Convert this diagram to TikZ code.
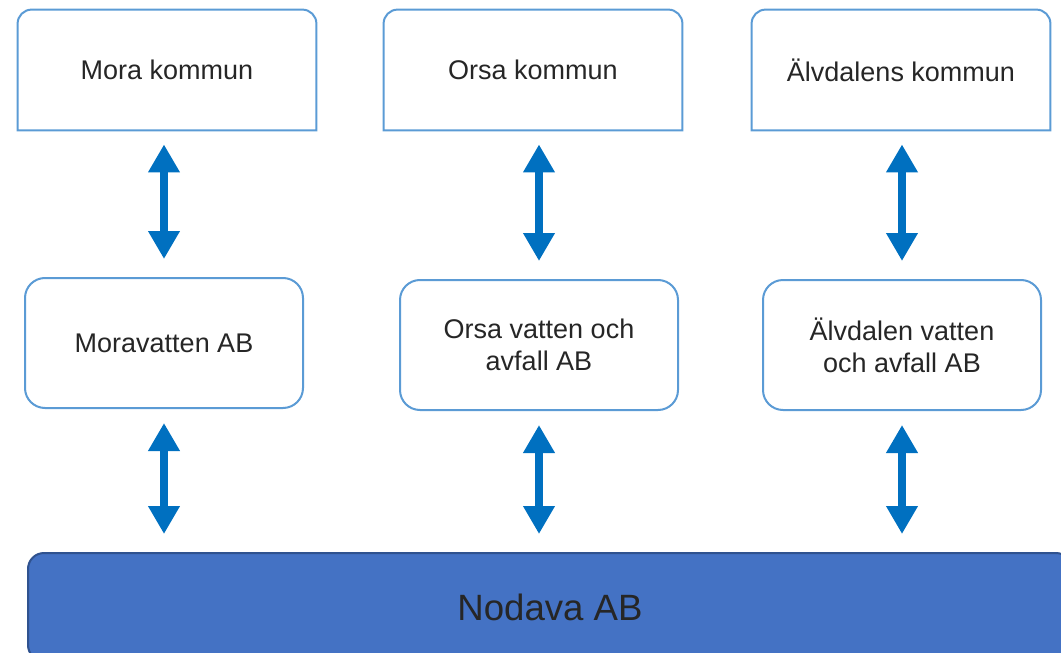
\documentclass[tikz,border=0pt]{standalone}
\usepackage{fontspec}
\setmainfont{Liberation Sans}
\usetikzlibrary{arrows.meta}
\definecolor{boxblue}{HTML}{5B9BD5}
\definecolor{arrowblue}{HTML}{0070C0}
\definecolor{barblue}{HTML}{4472C4}
\definecolor{barline}{HTML}{2F528F}
\definecolor{textgray}{HTML}{262626}

\begin{document}
\begin{tikzpicture}[x=0.5pt,y=-0.5pt,
    kommun/.style={minimum width=149pt,minimum height=60pt,inner sep=0pt,
        font=\fontsize{13.5}{16}\selectfont,text=textgray},
    bolag/.style={draw=boxblue,line width=1pt,rounded corners=10pt,
        minimum width=139pt,minimum height=65pt,inner sep=0pt,align=center,
        font=\fontsize{13.5}{16}\selectfont,text=textgray},
    link/.style={arrowblue,line width=4pt,
        {Triangle[width=15pt,length=14pt]}-{Triangle[width=15pt,length=14pt]},
        shorten <=7pt,shorten >=9pt}]
    \useasboundingbox (0,0) rectangle (1061,653);
    \clip (0,0) rectangle (1061,653);
    % kommuner
    \node[kommun] (mora) at (167,70) {Mora kommun};
    \node[kommun] (orsa) at (533,70) {Orsa kommun};
    \node[kommun] (alv)  at (901,70) {Älvdalens kommun};
    \foreach \n in {mora,orsa,alv}
        \draw[boxblue,line width=1pt] (\n.south west) -- ([yshift=-7pt]\n.north west)
            arc[start angle=180,end angle=90,radius=7pt] -- ([xshift=-7pt]\n.north east)
            arc[start angle=90,end angle=0,radius=7pt] -- (\n.south east) -- cycle;
    % bolag
    \node[bolag] (moraab) at (164,343) {Moravatten AB};
    \node[bolag] (orsaab) at (539,345) {Orsa vatten och\\avfall AB};
    \node[bolag] (alvab)  at (902,345) {Älvdalen vatten\\och avfall AB};
    \node[draw=barline,fill=barblue,line width=1pt,rounded corners=8pt,
        minimum width=522pt,minimum height=54pt,
        font=\fontsize{18.3}{22}\selectfont,text=textgray] (nodava) at (550,607) {Nodava AB};
    % pilar
    \foreach \k/\b in {mora/moraab,orsa/orsaab,alv/alvab} {
        \draw[link] (\b.north |- \k.south) -- (\b.north);
        \draw[link] (\b.south) -- (\b.south |- nodava.north);
    }
\end{tikzpicture}
\end{document}
